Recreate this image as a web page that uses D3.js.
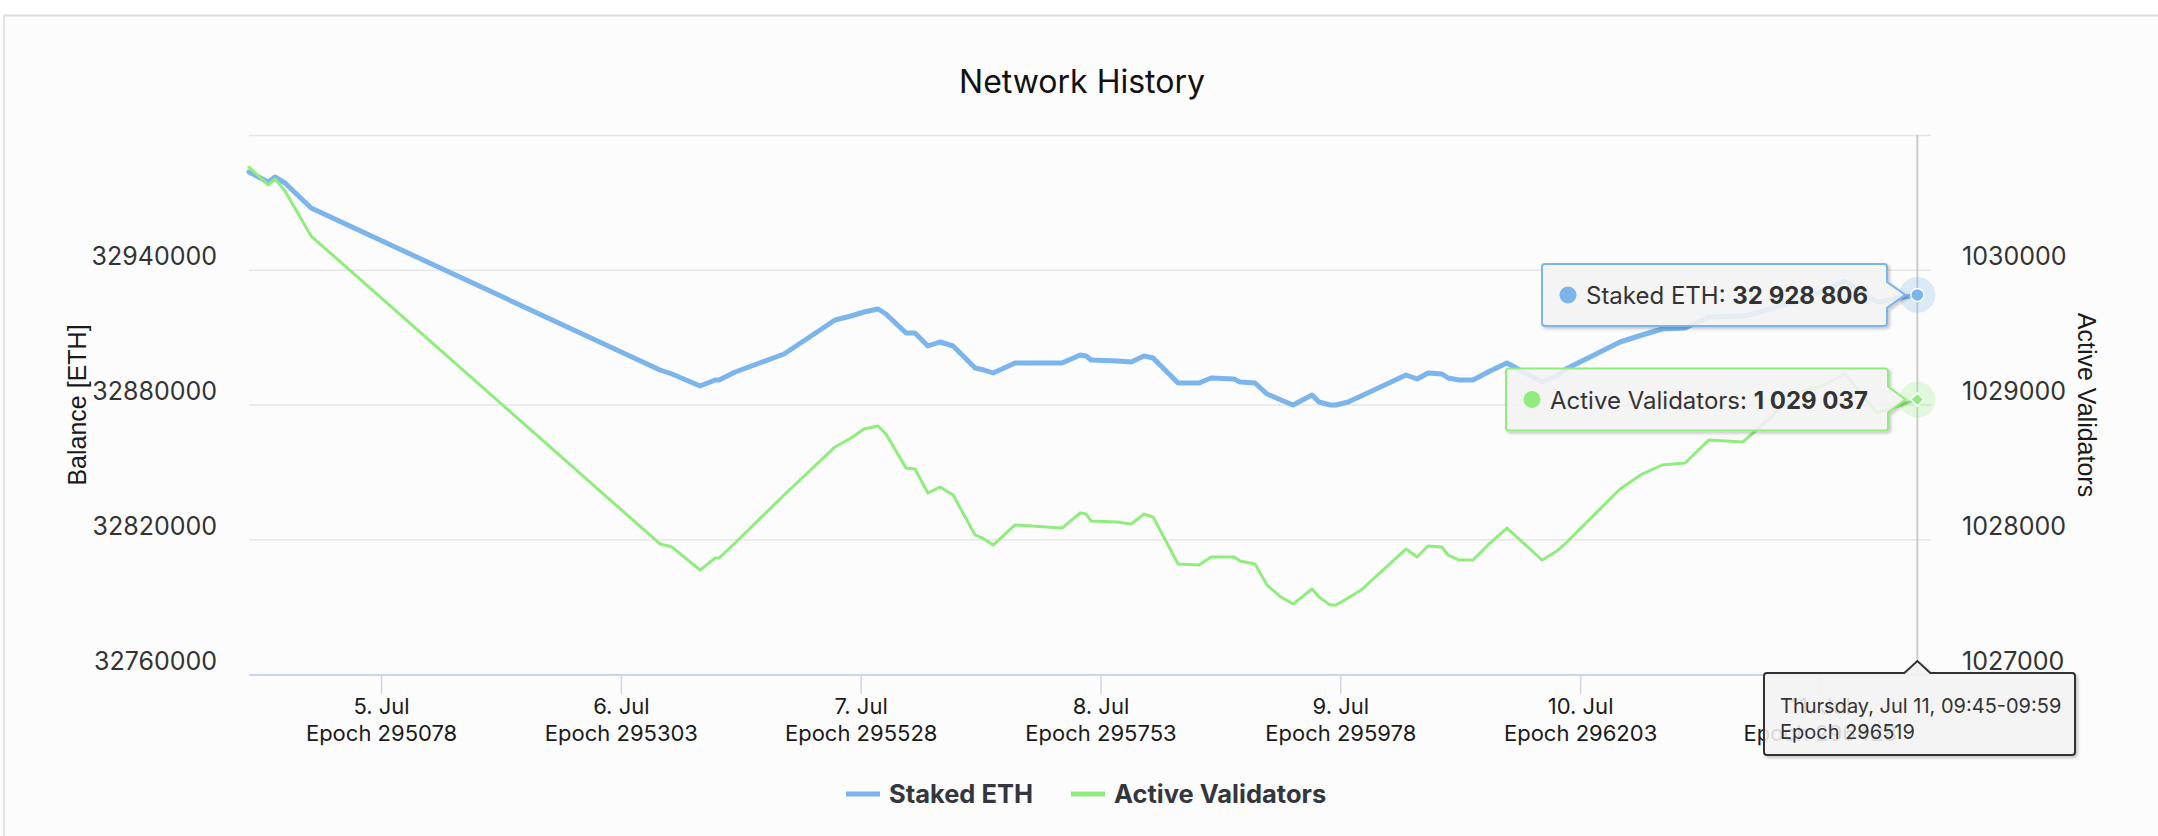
<!DOCTYPE html>
<html lang="en">
<head>
<meta charset="utf-8" />
<title>Network History</title>
<script src="https://d3js.org/d3.v7.min.js"></script>
<style>
	html, body { margin: 0; padding: 0; background: #fcfcfc; }
	svg { display: block; font-family: Inter, "Noto Sans", sans-serif; }
</style>
</head>
<body>
<div id="chart"></div>
<script>
	// ---- data ----
	var times = [
		"2024-07-04 10:47", "2024-07-04 12:41", "2024-07-04 13:23", "2024-07-04 14:23", "2024-07-04 17:00",
		"2024-07-06 03:55", "2024-07-06 05:07", "2024-07-06 07:56", "2024-07-06 09:26", "2024-07-06 09:50",
		"2024-07-06 11:26", "2024-07-06 16:20", "2024-07-06 21:26", "2024-07-06 23:02", "2024-07-07 00:20",
		"2024-07-07 01:44", "2024-07-07 02:32", "2024-07-07 04:32", "2024-07-07 05:26", "2024-07-07 06:44",
		"2024-07-07 07:56", "2024-07-07 09:15", "2024-07-07 11:27", "2024-07-07 12:21", "2024-07-07 13:15",
		"2024-07-07 15:27", "2024-07-07 20:09", "2024-07-07 21:58", "2024-07-07 22:34", "2024-07-07 23:04",
		"2024-07-08 01:40", "2024-07-08 03:04", "2024-07-08 04:22", "2024-07-08 05:16", "2024-07-08 07:46",
		"2024-07-08 09:52", "2024-07-08 11:04", "2024-07-08 13:22", "2024-07-08 13:58", "2024-07-08 15:28",
		"2024-07-08 16:40", "2024-07-08 18:04", "2024-07-08 19:16", "2024-07-08 21:10", "2024-07-08 21:52",
		"2024-07-08 22:59", "2024-07-08 23:35", "2024-07-09 00:47", "2024-07-09 02:05", "2024-07-09 06:35",
		"2024-07-09 07:41", "2024-07-09 08:47", "2024-07-09 10:11", "2024-07-09 10:47", "2024-07-09 11:53",
		"2024-07-09 13:17", "2024-07-09 14:59", "2024-07-09 16:41", "2024-07-09 20:11", "2024-07-09 21:41",
		"2024-07-09 22:35", "2024-07-10 04:00", "2024-07-10 06:12", "2024-07-10 08:12", "2024-07-10 10:30",
		"2024-07-10 12:54", "2024-07-10 16:18", "2024-07-10 17:18", "2024-07-10 22:00", "2024-07-11 00:00",
		"2024-07-11 02:30", "2024-07-11 05:42", "2024-07-11 09:45"
	];

	var stakedEth = [
		32983525, 32979073, 32981299, 32978628, 32967496,
		32895362, 32893581, 32888238, 32890909, 32890909,
		32894472, 32902486, 32917626, 32919407, 32921188,
		32922524, 32920297, 32911837, 32911837, 32906049,
		32907830, 32906049, 32896253, 32895362, 32894026,
		32898479, 32898479, 32902041, 32901596, 32899815,
		32899370, 32898924, 32901596, 32900705, 32889574,
		32889574, 32891800, 32891355, 32890019, 32889574,
		32884676, 32882004, 32879778, 32884230, 32881113,
		32879778, 32879778, 32881113, 32883785, 32893136,
		32891355, 32894026, 32893581, 32891800, 32890909,
		32890909, 32894917, 32898479, 32890019, 32892690,
		32895807, 32907830, 32910947, 32913618, 32914063,
		32918961, 32919407, 32920297, 32926531, 32930093,
		32934991, 32925640, 32928806
	];

	var activeValidators = [
		1030762, 1030629, 1030673, 1030584, 1030250,
		1027965, 1027942, 1027772, 1027861, 1027861,
		1027972, 1028328, 1028685, 1028751, 1028818,
		1028840, 1028781, 1028529, 1028521, 1028343,
		1028388, 1028328, 1028032, 1028002, 1027957,
		1028106, 1028083, 1028195, 1028187, 1028135,
		1028128, 1028113, 1028187, 1028165, 1027816,
		1027809, 1027868, 1027868, 1027839, 1027816,
		1027660, 1027571, 1027519, 1027631, 1027571,
		1027512, 1027512, 1027564, 1027623, 1027928,
		1027868, 1027950, 1027942, 1027883, 1027846,
		1027846, 1027972, 1028083, 1027846, 1027913,
		1027972, 1028373, 1028484, 1028551, 1028566,
		1028737, 1028722, 1028788, 1029100, 1029130,
		1029226, 1028937, 1029037
	];

	var seriesNames = ["Staked ETH", "Active Validators"];
	var seriesColors = ["#7cb5ec", "#90ed7d"];

	var xTickDays = ["2024-07-05", "2024-07-06", "2024-07-07", "2024-07-08", "2024-07-09", "2024-07-10", "2024-07-11"];
	var xTickEpochs = [295078, 295303, 295528, 295753, 295978, 296203, 296428];

	var leftTicks = [32760000, 32820000, 32880000, 32940000, 33000000];
	var rightTicks = [1027000, 1028000, 1029000, 1030000, 1031000];

	// ---- layout ----
	var W = 2158, H = 836;
	var plotL = 249, plotR = 1931, plotT = 135, plotB = 674;

	var parse = d3.utcParse("%Y-%m-%d %H:%M");
	var parseDay = d3.utcParse("%Y-%m-%d");
	var data = times.map(function(t, i) {
		return { t: parse(t), eth: stakedEth[i], val: activeValidators[i] };
	});

	var svg = d3.select("#chart").append("svg")
		.attr("width", W)
		.attr("height", H);

	var defs = svg.append("defs");
	var shadow = defs.append("filter").attr("id", "shadow")
		.attr("x", "-10%").attr("y", "-20%").attr("width", "130%").attr("height", "160%");
	shadow.append("feDropShadow")
		.attr("dx", 2).attr("dy", 2).attr("stdDeviation", 1.6)
		.attr("flood-color", "#000").attr("flood-opacity", 0.22);

	// page frame
	svg.append("rect").attr("width", W).attr("height", H).attr("fill", "#fcfcfc");
	svg.append("rect").attr("width", W).attr("height", 15).attr("fill", "#ffffff");
	svg.append("line").attr("x1", 4).attr("x2", W).attr("y1", 15.5).attr("y2", 15.5)
		.attr("stroke", "#dddddd").attr("stroke-width", 2);
	svg.append("line").attr("x1", 4).attr("x2", 4).attr("y1", 15).attr("y2", H)
		.attr("stroke", "#e3e3e3").attr("stroke-width", 2);

	// scales
	var x = d3.scaleUtc()
		.domain([parse("2024-07-04 10:47"), parse("2024-07-11 11:07")])
		.range([plotL, plotR]);
	var yL = d3.scaleLinear().domain([32760000, 33000000]).range([plotB, plotT]);
	var yR = d3.scaleLinear().domain([1027000, 1031000]).range([plotB, plotT]);

	// grid
	svg.append("g")
		.attr("transform", "translate(" + plotL + ",0)")
		.call(d3.axisLeft(yL).tickValues(leftTicks).tickSize(-(plotR - plotL)).tickFormat(""))
		.call(function(g) {
			g.select(".domain").remove();
			g.selectAll("line").attr("stroke", "#e6e6e6").attr("stroke-width", 1.5);
		});

	// left axis labels
	svg.append("g")
		.attr("transform", "translate(" + plotL + ",0)")
		.call(d3.axisLeft(yL).tickValues(leftTicks.slice(0, 4)).tickSize(0).tickPadding(32).tickFormat(d3.format("d")))
		.call(function(g) {
			g.select(".domain").remove();
			g.selectAll("text")
				.attr("y", -13)
				.style("font-family", "Inter, sans-serif")
				.style("font-size", "25px")
				.attr("fill", "#333333");
		});

	// right axis labels
	svg.append("g")
		.attr("transform", "translate(" + plotR + ",0)")
		.call(d3.axisRight(yR).tickValues(rightTicks.slice(0, 4)).tickSize(0).tickPadding(31).tickFormat(d3.format("d")))
		.call(function(g) {
			g.select(".domain").remove();
			g.selectAll("text")
				.attr("y", -13)
				.style("font-family", "Inter, sans-serif")
				.style("font-size", "25px")
				.attr("fill", "#333333");
		});

	// x axis
	var tickDates = xTickDays.map(parseDay);
	var xAxis = svg.append("g")
		.attr("transform", "translate(0," + (plotB + 1) + ")")
		.call(d3.axisBottom(x).tickValues(tickDates).tickSize(19).tickPadding(0).tickFormat(""));
	xAxis.select(".domain")
		.attr("d", "M" + plotL + ",0H" + plotR)
		.attr("stroke", "#ccd6eb").attr("stroke-width", 2);
	xAxis.selectAll(".tick line").attr("stroke", "#ccd6eb").attr("stroke-width", 1.5);
	xAxis.selectAll(".tick").each(function(d, i) {
		var t = d3.select(this).select("text")
			.attr("y", 0).attr("dy", null)
			.style("font-family", "Inter, sans-serif")
			.style("font-size", "22px")
			.attr("fill", "#1a1a1a");
		t.append("tspan").attr("x", 0).attr("y", 39).text(d3.utcFormat("%-d. %b")(d));
		t.append("tspan").attr("x", 0).attr("y", 66).text("Epoch " + xTickEpochs[i]);
	});

	// axis titles
	svg.append("text")
		.attr("transform", "translate(86,405) rotate(-90)")
		.attr("text-anchor", "middle")
		.style("font-family", "'Liberation Sans', Arial, sans-serif")
		.style("font-size", "25px")
		.attr("fill", "#1a1a1a")
		.text("Balance [ETH]");
	svg.append("text")
		.attr("transform", "translate(2078,405) rotate(90)")
		.attr("text-anchor", "middle")
		.style("font-family", "'Liberation Sans', Arial, sans-serif")
		.style("font-size", "25px")
		.attr("fill", "#1a1a1a")
		.text("Active Validators");

	// title
	svg.append("text")
		.attr("x", 1082).attr("y", 93)
		.attr("text-anchor", "middle")
		.style("font-family", "Inter, sans-serif")
		.style("font-size", "32px")
		.attr("fill", "#111111")
		.text("Network History");

	// series lines
	var lineEth = d3.line().x(function(d) { return x(d.t); }).y(function(d) { return yL(d.eth); });
	var lineVal = d3.line().x(function(d) { return x(d.t); }).y(function(d) { return yR(d.val); });

	svg.append("path").datum(data)
		.attr("d", lineEth)
		.attr("fill", "none")
		.attr("stroke", seriesColors[0])
		.attr("stroke-width", 5)
		.attr("stroke-linejoin", "round")
		.attr("stroke-linecap", "round");
	svg.append("path").datum(data)
		.attr("d", lineVal)
		.attr("fill", "none")
		.attr("stroke", seriesColors[1])
		.attr("stroke-width", 3)
		.attr("stroke-linejoin", "round")
		.attr("stroke-linecap", "round");

	// hovered point = last point
	var last = data[data.length - 1];
	var hx = x(last.t), hyE = yL(last.eth), hyV = yR(last.val);

	svg.append("line")
		.attr("x1", hx).attr("x2", hx).attr("y1", plotT).attr("y2", plotB)
		.attr("stroke", "#cccccc").attr("stroke-width", 2);

	svg.append("circle").attr("cx", hx).attr("cy", hyE).attr("r", 18)
		.attr("fill", seriesColors[0]).attr("fill-opacity", 0.25);
	svg.append("circle").attr("cx", hx).attr("cy", hyE).attr("r", 6.5)
		.attr("fill", seriesColors[0]).attr("stroke", "#ffffff").attr("stroke-width", 1.5);
	svg.append("circle").attr("cx", hx).attr("cy", hyV).attr("r", 18)
		.attr("fill", seriesColors[1]).attr("fill-opacity", 0.25);
	svg.append("path")
		.attr("d", d3.symbol().type(d3.symbolDiamond2).size(110)())
		.attr("transform", "translate(" + hx + "," + hyV + ")")
		.attr("fill", seriesColors[1]).attr("stroke", "#ffffff").attr("stroke-width", 1.5);

	// tooltips
	var fmt = function(v) { return d3.format(",")(v).replace(/,/g, " "); };

	function seriesLabel(left, right, cy, tipX, color, name, value) {
		var top = cy - 31, bottom = cy + 31;
		var p = "M" + (left + 3) + "," + top +
			"H" + (right - 3) + "Q" + right + "," + top + " " + right + "," + (top + 3) +
			"V" + (cy - 13) + "L" + tipX + "," + cy + "L" + right + "," + (cy + 13) +
			"V" + (bottom - 3) + "Q" + right + "," + bottom + " " + (right - 3) + "," + bottom +
			"H" + (left + 3) + "Q" + left + "," + bottom + " " + left + "," + (bottom - 3) +
			"V" + (top + 3) + "Q" + left + "," + top + " " + (left + 3) + "," + top + "Z";
		svg.append("path").attr("d", p)
			.attr("fill", "#f7f7f7").attr("fill-opacity", 0.85)
			.attr("stroke", color).attr("stroke-width", 2)
			.attr("filter", "url(#shadow)");
		svg.append("circle").attr("cx", left + 26).attr("cy", cy).attr("r", 8.5).attr("fill", color);
		var t = svg.append("text")
			.attr("x", left + 44).attr("y", cy + 9)
			.style("font-family", "Inter, sans-serif")
			.style("font-size", "24px")
			.attr("fill", "#333333");
		t.append("tspan").text(name + ": ");
		t.append("tspan").attr("font-weight", "bold").text(fmt(value));
	}

	seriesLabel(1542, 1887, hyE, hx - 12, seriesColors[0], seriesNames[0], last.eth);
	seriesLabel(1506, 1888, hyV, hx - 12, seriesColors[1], seriesNames[1], last.val);

	// header tooltip (below the axis)
	var hl = 1764, hr = 2075, ht = 673, hb = 755;
	var hp = "M" + (hl + 3) + "," + ht + "H" + (hx - 13) + "L" + hx + "," + (ht - 12) + "L" + (hx + 13) + "," + ht +
		"H" + (hr - 3) + "Q" + hr + "," + ht + " " + hr + "," + (ht + 3) +
		"V" + (hb - 3) + "Q" + hr + "," + hb + " " + (hr - 3) + "," + hb +
		"H" + (hl + 3) + "Q" + hl + "," + hb + " " + hl + "," + (hb - 3) +
		"V" + (ht + 3) + "Q" + hl + "," + ht + " " + (hl + 3) + "," + ht + "Z";
	svg.append("path").attr("d", hp)
		.attr("fill", "#f7f7f7").attr("fill-opacity", 0.85)
		.attr("stroke", "#333333").attr("stroke-width", 2)
		.attr("filter", "url(#shadow)");

	var endT = d3.utcMinute.offset(last.t, 14);
	var dayStart = d3.utcDay.floor(last.t);
	var epoch = xTickEpochs[xTickEpochs.length - 1] + Math.floor((last.t - dayStart) / 384000);
	var ht1 = svg.append("text")
		.style("font-family", "Inter, sans-serif")
		.style("font-size", "20px")
		.attr("fill", "#333333");
	ht1.append("tspan").attr("x", 1780).attr("y", 713)
		.text(d3.utcFormat("%A, %b %d, %H:%M")(last.t) + "-" + d3.utcFormat("%H:%M")(endT));
	ht1.append("tspan").attr("x", 1780).attr("y", 739).text("Epoch " + epoch);

	// legend
	var legendX = [846, 1071];
	seriesNames.forEach(function(name, i) {
		svg.append("line")
			.attr("x1", legendX[i]).attr("x2", legendX[i] + 34)
			.attr("y1", 794).attr("y2", 794)
			.attr("stroke", seriesColors[i]).attr("stroke-width", 5);
		svg.append("text")
			.attr("x", legendX[i] + 43).attr("y", 803)
			.style("font-family", "Inter, sans-serif")
			.style("font-size", "25.5px")
			.style("font-weight", "bold")
			.attr("fill", "#33373d")
			.text(name);
	});
</script>
</body>
</html>
